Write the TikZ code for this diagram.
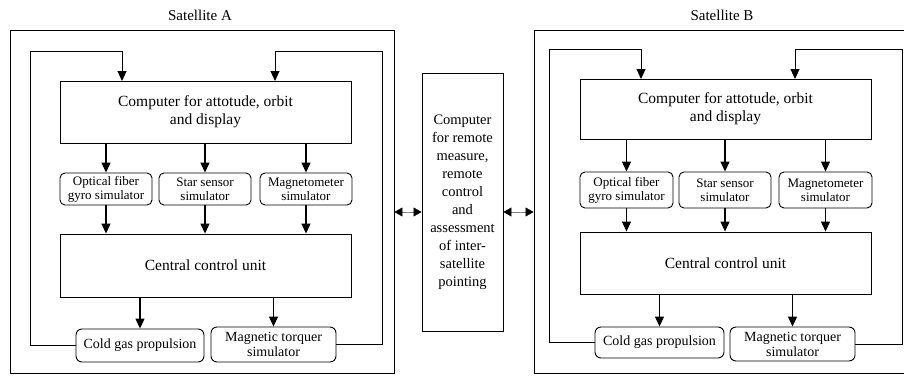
\documentclass[tikz,border=0pt]{standalone}
\usepackage{fontspec}
\setmainfont{Liberation Serif}
\usetikzlibrary{arrows.meta}
\usetikzlibrary{positioning}

\begin{document}
\begin{tikzpicture}[
  frame/.style={draw, line width=0.9pt, inner sep=0pt},
  box/.style={draw, line width=0.9pt, inner sep=0pt, align=center, font=\fontsize{15.5}{18}\selectfont},
  sim/.style={box, rounded corners=5pt, font=\fontsize{13}{14}\selectfont},
  act/.style={box, rounded corners=6pt, font=\fontsize{14}{15}\selectfont},
  title/.style={font=\fontsize{15}{18}\selectfont},
  arr/.style={-{Triangle[length=10pt,width=9pt]}, line width=1.1pt},
  back/.style={-{Triangle[length=10pt,width=9pt]}, line width=0.9pt},
  link/.style={{Triangle[black,length=8pt,width=9pt]}-{Triangle[black,length=8pt,width=9pt]}, line width=0.5pt, gray}]
\useasboundingbox (0pt,0pt) rectangle (904pt,-375pt);
% satellite A
\node (titleA) [title] at (200pt, -15pt) {Satellite A};
\node (outerA) [frame, minimum width=384pt, minimum height=343pt] at (202pt, -201.5pt) {};
\node (compA) [box, minimum width=291pt, minimum height=62pt] at (205.5pt, -112pt) {Computer for attotude, orbit\\and display};
\node (optA) [sim, minimum width=92pt, minimum height=32pt] at (106pt, -189pt) {Optical fiber\\gyro simulator};
\node (starA) [sim, minimum width=92pt, minimum height=32pt] at (205pt, -189pt) {Star sensor\\simulator};
\node (magA) [sim, minimum width=92pt, minimum height=32pt] at (306pt, -189pt) {Magnetometer\\simulator};
\node (ccuA) [box, minimum width=291pt, minimum height=63pt] at (205.5pt, -265.5pt) {Central control unit};
\node (coldA) [act, minimum width=128pt, minimum height=33pt] at (140pt, -345.5pt) {Cold gas propulsion};
\node (torqA) [act, minimum width=125pt, minimum height=35pt] at (273.5pt, -344.5pt) {Magnetic torquer\\simulator};
\coordinate (aTL) at (30pt, -51pt);
\coordinate (aTR) at (382pt, -51pt);
\coordinate (aIn1) at (122pt, -81pt);
\coordinate (aIn2) at (275pt, -81pt);
\draw [arr] (optA.north |- compA.south) -- (optA.north);
\draw [arr] (starA.north |- compA.south) -- (starA.north);
\draw [arr] (magA.north |- compA.south) -- (magA.north);
\draw [arr] (optA.south) -- (optA.south |- ccuA.north);
\draw [arr] (starA.south) -- (starA.south |- ccuA.north);
\draw [arr] (magA.south) -- (magA.south |- ccuA.north);
\draw [arr] (coldA.north |- ccuA.south) -- (coldA.north);
\draw [arr] (torqA.north |- ccuA.south) -- (torqA.north);
\draw [back] (coldA.west) -| (aTL) -| (aIn1);
\draw [back] (torqA.east) -| (aTR) -| (aIn2);
% ground computer
\node (mid) [box, font=\fontsize{14.5}{18}\selectfont, minimum width=81pt, minimum height=258pt] at (462.5pt, -202pt) {Computer\\for remote\\measure,\\remote\\control\\and\\assessment\\of inter-\\satellite\\pointing};
% satellite B
\node (titleB) [title] at (722pt, -15pt) {Satellite B};
\node (outerB) [frame, minimum width=372pt, minimum height=343pt] at (720pt, -201.5pt) {};
\node (compB) [box, minimum width=291pt, minimum height=60pt] at (725.5pt, -109pt) {Computer for attotude, orbit\\and display};
\node (optB) [sim, minimum width=93pt, minimum height=36pt] at (626.5pt, -190pt) {Optical fiber\\gyro simulator};
\node (starB) [sim, minimum width=92pt, minimum height=36pt] at (725pt, -190pt) {Star sensor\\simulator};
\node (magB) [sim, minimum width=93pt, minimum height=36pt] at (825.5pt, -190pt) {Magnetometer\\simulator};
\node (ccuB) [box, minimum width=291pt, minimum height=62pt] at (725.5pt, -263pt) {Central control unit};
\node (coldB) [act, minimum width=129pt, minimum height=31pt] at (659.5pt, -342.5pt) {Cold gas propulsion};
\node (torqB) [act, minimum width=125pt, minimum height=34pt] at (792.5pt, -344pt) {Magnetic torquer\\simulator};
\coordinate (bTL) at (549pt, -49pt);
\coordinate (bTR) at (902pt, -49pt);
\coordinate (bIn1) at (641pt, -79pt);
\coordinate (bIn2) at (795pt, -79pt);
\draw [arr] (optB.north |- compB.south) -- (optB.north);
\draw [arr] (starB.north |- compB.south) -- (starB.north);
\draw [arr] (magB.north |- compB.south) -- (magB.north);
\draw [arr] (optB.south) -- (optB.south |- ccuB.north);
\draw [arr] (starB.south) -- (starB.south |- ccuB.north);
\draw [arr] (magB.south) -- (magB.south |- ccuB.north);
\draw [arr] (coldB.north |- ccuB.south) -- (coldB.north);
\draw [arr] (torqB.north |- ccuB.south) -- (torqB.north);
\draw [back] (coldB.west) -| (bTL) -| (bIn1);
\draw [back] (torqB.east) -| (bTR) -| (bIn2);
% links
\coordinate (lnk) at (0pt, -212pt);
\draw [link] (outerA.east |- lnk) -- (mid.west |- lnk);
\draw [link] (mid.east |- lnk) -- (outerB.west |- lnk);
\end{tikzpicture}
\end{document}
